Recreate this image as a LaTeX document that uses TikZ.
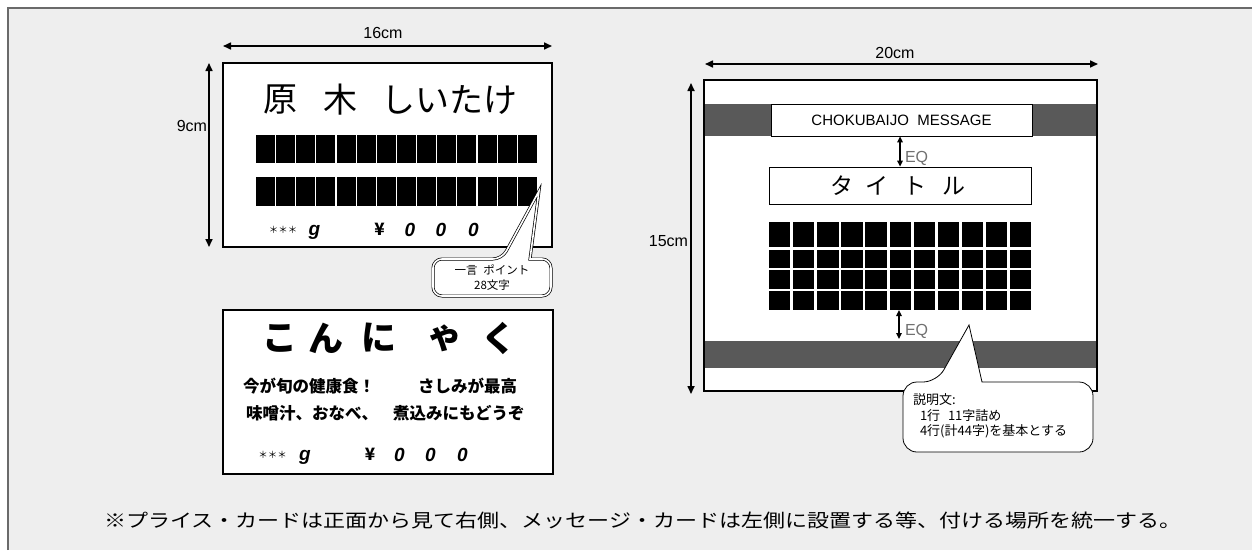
\documentclass[tikz,border=0pt]{standalone}
\usepackage{fontspec}
\setmainfont{Liberation Sans}
\newfontfamily\jp{Noto Sans CJK JP}
\usetikzlibrary{arrows.meta}
\definecolor{bgc}{HTML}{EEEEEE}
\definecolor{framec}{HTML}{6A6A6A}
\definecolor{bandc}{HTML}{595959}
\definecolor{eqc}{HTML}{707070}
\newcommand{\fs}[1]{\fontsize{#1}{#1}\selectfont}
\begin{document}
\begin{tikzpicture}[x=1pt,y=-1pt,
  txt/.style={inner sep=0pt, outer sep=0pt},
  dimarrow/.style={line width=1.6pt, {Triangle[length=8pt,width=7pt]}-{Triangle[length=8pt,width=7pt]}},
  eqarrow/.style={line width=1.4pt, {Triangle[length=6pt,width=5.5pt]}-{Triangle[length=6pt,width=5.5pt]}},
  card/.style={line width=2.6pt, fill=white},
  dimlabel/.style={txt, font=\fs{16}},
  eqlabel/.style={txt, font=\fs{16}, text=eqc, anchor=west},
  titlechar/.style={txt, font=\jp\fs{34}},
  boldchar/.style={txt, font=\jp\bfseries\fs{35}},
  bodyline/.style={txt, font=\jp\bfseries\fs{16.5}, anchor=west},
  stars/.style={txt, font=\jp\fs{9.5}},
  price/.style={txt, font=\bfseries\itshape\fs{19}},
  yen/.style={txt, font=\jp\bfseries\fs{17}},
  smalltxt/.style={txt, font=\jp\fs{11.5}},
  block/.style={fill=black}
]
\useasboundingbox (0,0) rectangle (1252,550);
\fill[white] (0,0) rectangle (1252,550);
\fill[bgc] (8,8) rectangle (1252,550);
\draw[framec, line width=1.5pt] (8,550) -- (8,8) -- (1252,8);

% ---------- card 1 ----------
\draw[card] (223,63) rectangle (552,247);
\coordinate (w1a) at (223,46); \coordinate (w1b) at (552,46);
\draw[dimarrow] (w1a) -- (w1b);
\node[dimlabel] (l16) at (383,33) {16cm};
\coordinate (h1a) at (209,63); \coordinate (h1b) at (209,247);
\draw[dimarrow] (h1a) -- (h1b);
\node[dimlabel, anchor=east] (l9) at (207,126) {9cm};

\node[titlechar] (t1a) at (280,100) {原};
\node[titlechar] (t1b) at (340,100) {木};
\node[titlechar] (t1c) at (449.5,100) {しいたけ};

\foreach \i in {0,...,13} {
  \fill[block] (256+\i*20.14,135) rectangle ++(19,28);
  \fill[block] (256+\i*20.14,177) rectangle ++(19,29);
}

\node[stars] (s1) at (283,230) {＊＊＊};
\node[price] (g1) at (314.5,232) {g};
\node[yen] (y1) at (379.5,229) {¥};
\node[price] (o1a) at (410,230) {0};
\node[price] (o1b) at (441,230) {0};
\node[price] (o1c) at (473.5,230) {0};

% callout 1
\draw[line width=0.7pt, double=white, double distance=1.6pt, fill=white]
  (539,191) -- (530,259) [rounded corners=9pt] -- (551,259) -- (551,296) -- (433,296) -- (433,259) -- (502,259) [sharp corners] -- cycle;
\node[smalltxt] (c1a) at (492,270) {一言\hspace{0.5em}ポイント};
\node[smalltxt] (c1b) at (492,285) {28文字};

% ---------- card 2 ----------
\draw[card] (223,310) rectangle (553,474);
\node[boldchar] (k1) at (280,338) {こ};
\node[boldchar] (k2) at (326,338) {ん};
\node[boldchar] (k3) at (378.5,338) {に};
\node[boldchar] (k4) at (445,338) {ゃ};
\node[boldchar] (k5) at (498.5,338) {く};
\node[bodyline] (b1a) at (243,386) {今が旬の健康食！};
\node[bodyline] (b1b) at (418,386) {さしみが最高};
\node[bodyline] (b2a) at (246,413) {味噌汁、おなべ、};
\node[bodyline] (b2b) at (393,413) {煮込みにもどうぞ};
\node[stars] (s2) at (272.5,455) {＊＊＊};
\node[price] (g2) at (305,457) {g};
\node[yen] (y2) at (370,454) {¥};
\node[price] (o2a) at (399.5,455) {0};
\node[price] (o2b) at (430.5,455) {0};
\node[price] (o2c) at (462.5,455) {0};

% ---------- right card ----------
\fill[white] (704,80) rectangle (1097,391);
\fill[bandc] (704,104) rectangle (1097,136);
\fill[bandc] (704,341) rectangle (1097,368);
\draw[line width=2.6pt] (704,80) rectangle (1097,391);
\coordinate (w2a) at (705,64); \coordinate (w2b) at (1098,64);
\draw[dimarrow] (w2a) -- (w2b);
\node[dimlabel] (l20) at (895,53) {20cm};
\coordinate (h2a) at (691,83); \coordinate (h2b) at (691,394);
\draw[dimarrow] (h2a) -- (h2b);
\node[dimlabel, anchor=east] (l15) at (688,241) {15cm};

\node[draw, line width=0.8pt, fill=white, minimum width=261pt, minimum height=32pt, inner sep=0pt, font=\fs{15}] (msg) at (901.5,120) {CHOKUBAIJO\ \ MESSAGE};
\node[draw, line width=0.8pt, fill=white, minimum width=262pt, minimum height=37pt, inner sep=0pt] (tbox) at (900,185.5) {};
\node[txt, font=\jp\fs{23}] (tt1) at (841.5,186) {タ};
\node[txt, font=\jp\fs{23}] (tt2) at (877,186) {イ};
\node[txt, font=\jp\fs{23}] (tt3) at (915,186) {ト};
\node[txt, font=\jp\fs{23}] (tt4) at (954,186) {ル};

\draw[eqarrow] (msg.south -| 900,0) -- (tbox.north -| 900,0);
\node[eqlabel] (eq1) at (905,158) {EQ};

\foreach \c in {0,...,10} {
  \fill[block] (769+\c*24.1,222) rectangle ++(21.3,25);
  \fill[block] (769+\c*24.1,250) rectangle ++(21.3,18);
  \fill[block] (769+\c*24.1,270) rectangle ++(21.3,19);
  \fill[block] (769+\c*24.1,291) rectangle ++(21.3,19);
}
\coordinate (gridb) at (899,310); \coordinate (bandt) at (899,339);
\draw[eqarrow] (gridb) -- (bandt);
\node[eqlabel] (eq2) at (905,331) {EQ};

% callout 2
\draw[line width=0.8pt, fill=white]
  (969,325) -- (982,382) [rounded corners=14pt] -- (1093,382) -- (1093,452) -- (903,452) -- (903,382) -- (937,382) [sharp corners] -- cycle;
\node[txt, font=\jp\fs{13}, anchor=west] (d1) at (913,400) {説明文:};
\node[txt, font=\jp\fs{13}, anchor=west] (d2) at (920,416) {1行\hspace{0.6em}11字詰め};
\node[txt, font=\jp\fs{13}, anchor=west] (d3) at (920,431) {4行(計44字)を基本とする};

% note
\node[txt, font=\jp\fs{18.5}, anchor=west] (note) at (104,520) {\scalebox{1.19}[1]{※プライス・カードは正面から見て右側、メッセージ・カードは左側に設置する等、付ける場所を統一する。}};
\end{tikzpicture}
\end{document}
